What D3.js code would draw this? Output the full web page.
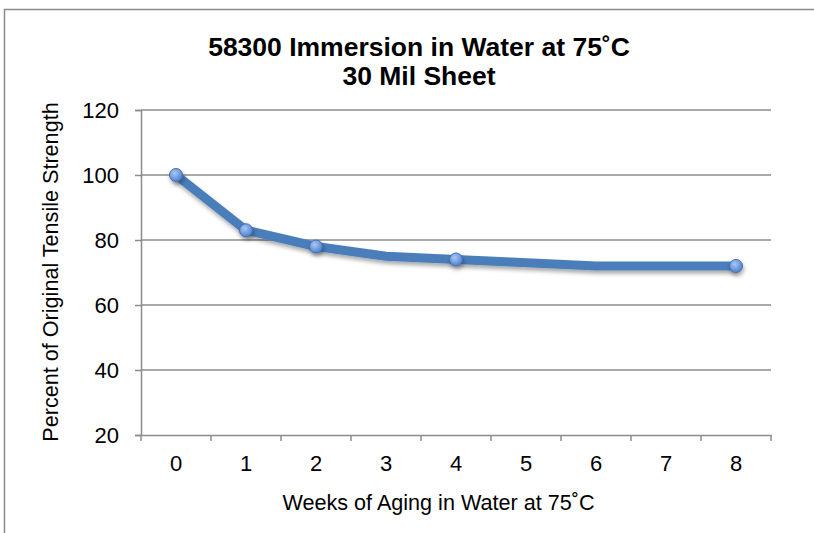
<!DOCTYPE html>
<html>
<head>
<meta charset="utf-8">
<script src="https://cdn.jsdelivr.net/npm/d3@7"></script>
<style>
  body { margin: 0; background: #fff; }
  svg { font-family: "Liberation Sans", Arial, sans-serif; }
</style>
</head>
<body>
<svg width="814" height="533"></svg>
<script>
const weeks = [0, 1, 2, 3, 4, 5, 6, 7, 8];
const dataWeeks = [0, 1, 2, 3, 4, 6, 8];
const strength = [100, 83, 78, 75, 74, 72, 72];
const showMarker = [true, true, true, false, true, false, true];
const yTicks = [20, 40, 60, 80, 100, 120];

const svg = d3.select("svg");

// chart frame (runs off the right and bottom edges)
svg.append("path")
  .attr("d", "M4.5,540 V9.5 H830")
  .attr("fill", "none")
  .attr("stroke", "#8a8a8a")
  .attr("stroke-width", 1.5);

const defs = svg.append("defs");
const grad = defs.append("radialGradient").attr("id", "mk")
  .attr("cx", "40%").attr("cy", "35%").attr("r", "65%");
grad.append("stop").attr("offset", "0%").attr("stop-color", "#a9c8f2");
grad.append("stop").attr("offset", "100%").attr("stop-color", "#4f81d0");
const sh = defs.append("filter").attr("id", "sh")
  .attr("x", "-50%").attr("y", "-50%").attr("width", "200%").attr("height", "200%");
sh.append("feDropShadow").attr("dx", 1).attr("dy", 3).attr("stdDeviation", 2)
  .attr("flood-color", "#000").attr("flood-opacity", 0.35);

const x = d3.scaleBand().domain(weeks).range([141, 771]);
const y = d3.scaleLinear().domain([20, 120]).range([435, 110]);

// gridlines
svg.append("g")
  .selectAll("line")
  .data(yTicks.slice(1))
  .join("line")
  .attr("x1", 141).attr("x2", 771)
  .attr("y1", d => y(d)).attr("y2", d => y(d))
  .attr("stroke", "#8c8c8c").attr("stroke-width", 1.5);

const yAxis = svg.append("g")
  .attr("transform", "translate(141,0)")
  .call(d3.axisLeft(y).tickValues(yTicks).tickSize(6).tickPadding(16));
yAxis.select(".domain").attr("stroke", "#8c8c8c").attr("stroke-width", 1.5);
yAxis.selectAll(".tick line").attr("stroke", "#8c8c8c").attr("stroke-width", 1.5);
yAxis.selectAll("text").attr("font-size", 22).attr("fill", "#000")
  .attr("font-family", "Liberation Sans, Arial, sans-serif");

const xAxis = svg.append("g")
  .attr("transform", "translate(0,435)")
  .call(d3.axisBottom(x).tickSize(0).tickPadding(20));
xAxis.select(".domain").attr("stroke", "#8c8c8c").attr("stroke-width", 1.5);
xAxis.selectAll("text").attr("font-size", 22).attr("fill", "#000")
  .attr("font-family", "Liberation Sans, Arial, sans-serif");
// tick marks on band edges
svg.append("g")
  .selectAll("line")
  .data(weeks.concat([weeks.length]))
  .join("line")
  .attr("x1", (d, i) => 141 + i * x.step()).attr("x2", (d, i) => 141 + i * x.step())
  .attr("y1", 435).attr("y2", 441)
  .attr("stroke", "#8c8c8c").attr("stroke-width", 1.5);

// series
const pts = dataWeeks.map((w, i) => ({ w, v: strength[i], m: showMarker[i] }));
const line = d3.line()
  .x(d => x(d.w) + x.bandwidth() / 2)
  .y(d => y(d.v));

svg.append("path")
  .datum(pts)
  .attr("d", line)
  .attr("fill", "none")
  .attr("stroke", "#4a7ebb")
  .attr("stroke-width", 9)
  .attr("stroke-linejoin", "round")
  .attr("filter", "url(#sh)");

svg.append("g")
  .selectAll("circle")
  .data(pts.filter(d => d.m))
  .join("circle")
  .attr("cx", d => x(d.w) + x.bandwidth() / 2)
  .attr("cy", d => y(d.v))
  .attr("r", 6.5)
  .attr("fill", "url(#mk)")
  .attr("stroke", "#3f6fb5")
  .attr("stroke-width", 1)
  .attr("filter", "url(#sh)");

// titles
const title = svg.append("text")
  .attr("x", 419).attr("text-anchor", "middle")
  .attr("font-size", 26.5).attr("font-weight", "bold");
title.append("tspan").attr("x", 419).attr("y", 56).text("58300 Immersion in Water at 75˚C");
title.append("tspan").attr("x", 419).attr("y", 85).text("30 Mil Sheet");

svg.append("text")
  .attr("x", 438.5).attr("y", 509.5)
  .attr("text-anchor", "middle")
  .attr("font-size", 21.6)
  .text("Weeks of Aging in Water at 75˚C");

svg.append("text")
  .attr("transform", "translate(58,272) rotate(-90)")
  .attr("text-anchor", "middle")
  .attr("font-size", 21.6)
  .text("Percent of Original Tensile Strength");
</script>
</body>
</html>
